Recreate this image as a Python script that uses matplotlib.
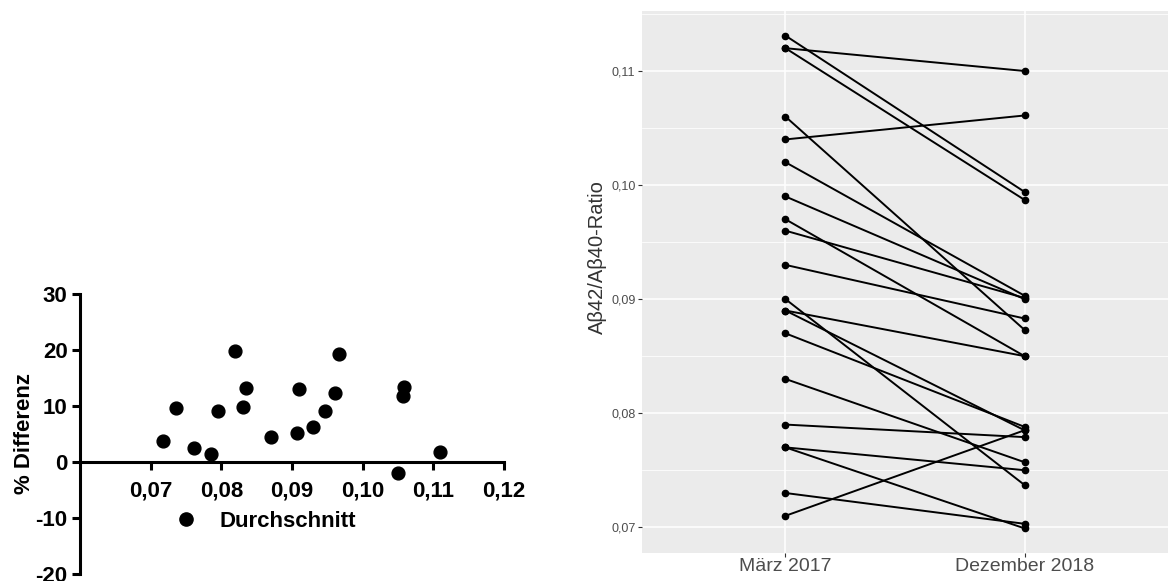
import numpy as np
import matplotlib
matplotlib.use("Agg")
import matplotlib.pyplot as plt
from matplotlib.ticker import FuncFormatter, MultipleLocator
from matplotlib.lines import Line2D

plt.rcParams['font.family'] = ['Liberation Sans', 'DejaVu Sans']

# Bland-Altman style data (left)
mean_vals = [0.07175, 0.07364, 0.07615, 0.07852, 0.07946, 0.08192, 0.08301, 0.08353,
             0.08708, 0.09068, 0.09105, 0.09304, 0.09465, 0.09611, 0.09663, 0.10500,
             0.10581, 0.10567, 0.11097]
pct_diff = [3.75, 9.58, 2.56, 1.37, 9.11, 19.88, 9.76, 13.21,
            4.52, 5.12, 13.10, 6.31, 9.11, 12.38, 19.35, -2.02,
            13.45, 11.85, 1.79]

# paired ratios (right)
timepoints = ["März 2017", "Dezember 2018"]
ratio_2017 = [0.1131, 0.1120, 0.1120, 0.1060, 0.1040, 0.1020, 0.0990, 0.0970, 0.0960, 0.0930,
              0.0900, 0.0890, 0.0890, 0.0870, 0.0830, 0.0790, 0.0770, 0.0770, 0.0730, 0.0710]
ratio_2018 = [0.0994, 0.1100, 0.0987, 0.0873, 0.1061, 0.0903, 0.0900, 0.0850, 0.0901, 0.0883,
              0.0737, 0.0850, 0.0785, 0.0788, 0.0757, 0.0779, 0.0750, 0.0699, 0.0703, 0.0785]

W, H = 1172, 581
fig = plt.figure(figsize=(W / 100, H / 100), dpi=100)

def px_axes(x0, y0, x1, y1):
    return fig.add_axes([x0 / W, 1 - y1 / H, (x1 - x0) / W, (y1 - y0) / H])

comma = FuncFormatter(lambda v, p: ("%.2f" % v).replace(".", ","))

# ---- left panel
ax1 = px_axes(80, 294, 504, 574)
ax1.scatter(mean_vals, pct_diff, s=85, color="black", zorder=3, clip_on=False)
ax1.set_xlim(0.06, 0.12)
ax1.set_ylim(-20, 30)
ax1.spines['top'].set_visible(False)
ax1.spines['right'].set_visible(False)
ax1.spines['bottom'].set_position(('data', 0))
for s in ['left', 'bottom']:
    ax1.spines[s].set_linewidth(2.2)
ax1.set_xticks([0.07, 0.08, 0.09, 0.10, 0.11, 0.12])
ax1.set_yticks([-20, -10, 0, 10, 20, 30])
ax1.xaxis.set_major_formatter(comma)
ax1.yaxis.set_major_formatter(FuncFormatter(lambda v, p: "%d" % v))
ax1.tick_params(axis="x", width=2.2, length=6, labelsize=16, pad=7)
ax1.tick_params(axis="y", width=2.2, length=6, labelsize=16, pad=3)
for lab in ax1.get_xticklabels() + ax1.get_yticklabels():
    lab.set_fontweight("bold")
ax1.set_ylabel("% Differenz", fontsize=16, fontweight="bold")
ax1.yaxis.set_label_coords(-0.106, 0.5)
ax1.patch.set_alpha(0)
leg_handle = Line2D([], [], marker="o", linestyle="none", color="black", markersize=9.5)
ax1.legend([leg_handle], ["Durchschnitt"], loc="center left", frameon=False,
           bbox_to_anchor=(0.176, 0.189), handletextpad=0.5, borderaxespad=0,
           prop={"weight": "bold", "size": 16})

# ---- right panel
ax2 = px_axes(642, 11, 1168, 553)
ax2.set_facecolor("#EBEBEB")
xs = np.arange(len(timepoints))
for a, b in zip(ratio_2017, ratio_2018):
    ax2.plot(xs, [a, b], color="black", lw=1.4, marker="o", markersize=4.5, zorder=3)
ax2.set_xlim(-0.6, 1.6)
allv = ratio_2017 + ratio_2018
lo, hi = min(allv), max(allv)
pad = (hi - lo) * 0.05
ax2.set_ylim(lo - pad, hi + pad)
ax2.set_xticks(xs)
ax2.set_xticklabels(timepoints)
ax2.yaxis.set_major_locator(MultipleLocator(0.01))
ax2.yaxis.set_minor_locator(MultipleLocator(0.005))
ax2.yaxis.set_major_formatter(comma)
ax2.grid(which="major", color="white", lw=1.1)
ax2.grid(which="minor", axis="y", color="white", lw=0.55)
ax2.set_axisbelow(True)
for s in ax2.spines.values():
    s.set_visible(False)
ax2.tick_params(axis="y", which="major", labelsize=9, colors="#333333", labelcolor="#4D4D4D",
                length=2.75, width=0.8, pad=2)
ax2.tick_params(axis="x", which="major", labelsize=14, colors="#333333", labelcolor="#4D4D4D",
                length=2.75, width=0.8, pad=1)
ax2.tick_params(which="minor", length=0)
ax2.set_ylabel("Aβ42/Aβ40-Ratio", fontsize=14.5, color="#333333")
ax2.yaxis.set_label_coords(-0.0665, 0.546)

fig.savefig("out.png", dpi=100)
